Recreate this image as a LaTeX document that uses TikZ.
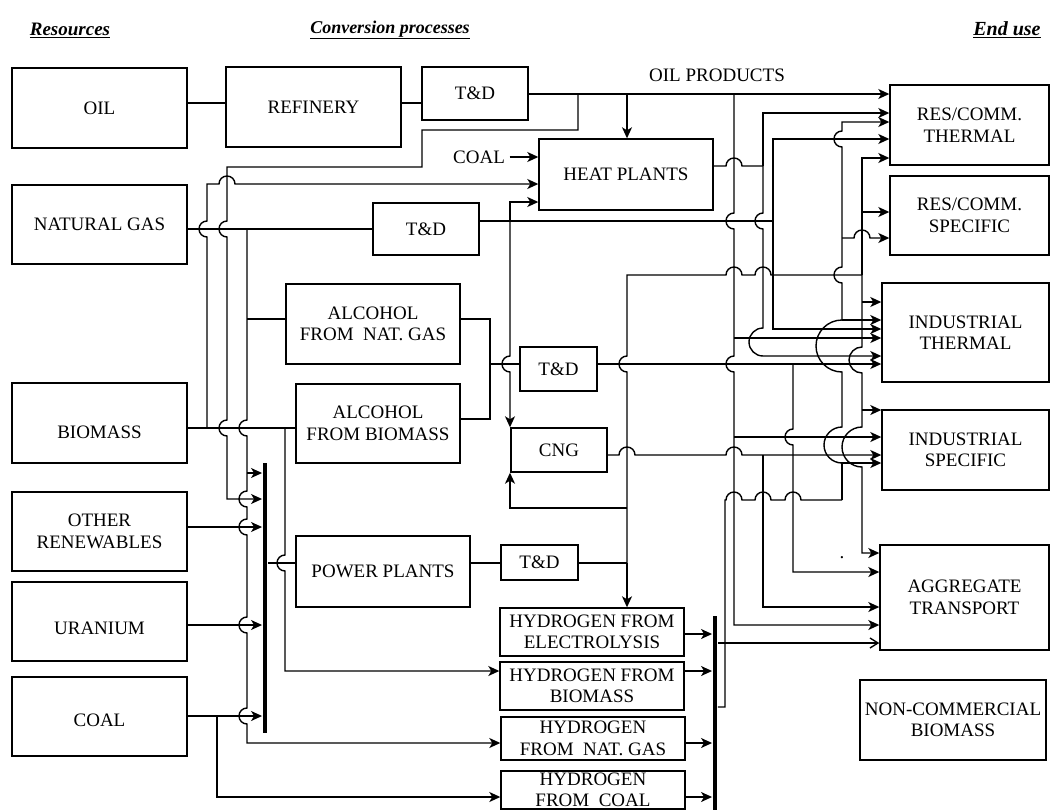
\documentclass[tikz,border=0pt]{standalone}
\usepackage{fontspec}
\setmainfont{Liberation Serif}
\newfontfamily\boxfont{Liberation Serif}
\usetikzlibrary{arrows.meta}
\def\hopR#1#2{-- (#1-8,#2) arc[start angle=180,end angle=360,radius=8]}
\def\hopD#1#2{-- (#1,#2-8) arc[start angle=270,end angle=90,radius=8]}
\def\hopU#1#2{-- (#1,#2+8) arc[start angle=90,end angle=270,radius=8]}
\begin{document}
\begin{tikzpicture}[x=1pt,y=-1pt,line width=1.4pt,
  box/.style={draw,line width=1.4pt,inner sep=0pt,align=center,font=\boxfont\fontsize{19}{21.5}\selectfont},
  txt/.style={inner sep=0pt,font=\boxfont\fontsize{19}{21.5}\selectfont},
  hdr/.style={inner sep=0pt,font=\fontsize{19}{23}\selectfont\bfseries\itshape},
  bar/.style={fill=black,inner sep=0pt,minimum width=4.5,draw=none},
  arr/.style={-{Stealth[length=11pt,width=10pt,inset=3pt]}},
  oarr/.style={-{Straight Barb[length=8pt,width=10pt]}}]
\useasboundingbox (0,0) rectangle (1053,811);
% headers
\node[hdr] (hres) at (70,30) {\underline{Resources}};
\node[hdr,font=\fontsize{18}{22}\selectfont\bfseries\itshape] (hconv) at (390,30) {\underline{Conversion processes}};
\node[hdr,font=\fontsize{20}{24}\selectfont\bfseries\itshape] (hend) at (1007,30) {\underline{End use}};
% resources
\node[box,minimum width=175,minimum height=80] (oil) at (99.5,108) {OIL};
\node[box,minimum width=175,minimum height=79] (ng) at (99.5,224.5) {NATURAL GAS};
\node[box,minimum width=175,minimum height=80,text height=30pt,text depth=0pt] (biomass) at (99.5,423) {BIOMASS};
\node[box,minimum width=175,minimum height=79] (otherren) at (99.5,531.5) {OTHER\\RENEWABLES};
\node[box,minimum width=175,minimum height=79,text height=25pt,text depth=0pt] (uranium) at (99.5,621.5) {URANIUM};
\node[box,minimum width=175,minimum height=79,text height=19pt,text depth=0pt] (coal) at (99.5,716.5) {COAL};
% conversion
\node[box,minimum width=175,minimum height=80] (ref) at (313.5,107) {REFINERY};
\node[box,minimum width=106,minimum height=53] (td1) at (475,93.5) {T\&D};
\node[box,minimum width=174,minimum height=71] (heat) at (626,174.5) {HEAT PLANTS};
\node[box,minimum width=106,minimum height=52] (td2) at (426,229) {T\&D};
\node[box,minimum width=174,minimum height=80] (alcng) at (373,324) {ALCOHOL\\FROM~~NAT. GAS};
\node[box,minimum width=164,minimum height=79] (alcbio) at (378,423.5) {ALCOHOL\\FROM BIOMASS};
\node[box,minimum width=77,minimum height=44] (td3) at (558.5,369) {T\&D};
\node[box,minimum width=96,minimum height=44] (cng) at (559,450) {CNG};
\node[box,minimum width=174,minimum height=71] (pp) at (383,571.5) {POWER PLANTS};
\node[box,minimum width=77,minimum height=35] (td4) at (539.5,562.5) {T\&D};
\node[box,minimum width=184,minimum height=48] (h2e) at (592,632) {HYDROGEN FROM\\ELECTROLYSIS};
\node[box,minimum width=184,minimum height=48] (h2b) at (592,686) {HYDROGEN FROM\\BIOMASS};
\node[box,minimum width=184,minimum height=43] (h2n) at (593,738.5) {HYDROGEN\\FROM~~NAT. GAS};
\node[box,minimum width=184,minimum height=38] (h2c) at (593,790) {HYDROGEN\\FROM~~COAL};
\node[bar,minimum height=270] (bar1) at (265,598) {};
\node[bar,minimum height=194] (bar2) at (715,713) {};
% end use
\node[box,minimum width=159,minimum height=80] (rct) at (969.5,125) {RES/COMM.\\THERMAL};
\node[box,minimum width=159,minimum height=79] (rcs) at (969.5,215.5) {RES/COMM.\\SPECIFIC};
\node[box,minimum width=167,minimum height=99] (indtherm) at (965.5,332.5) {INDUSTRIAL\\THERMAL};
\node[box,minimum width=167,minimum height=80] (indspec) at (965.5,450) {INDUSTRIAL\\SPECIFIC};
\node[box,minimum width=169,minimum height=105] (trans) at (964.5,597.5) {AGGREGATE\\TRANSPORT};
\node[box,minimum width=186,minimum height=80] (ncb) at (953,720) {NON-COMMERCIAL\\BIOMASS};
\node[txt] (oilprod) at (717,75) {OIL PRODUCTS};
\node[txt] (coallbl) at (479,157) {COAL};
\node[txt] (dot) at (842,558) {.};
% oil chain
\draw (oil.east|-0,103) -- (ref.west|-0,103);
\draw (ref.east|-0,103) -- (td1.west|-0,103);
\draw[arr] (td1.east|-0,94) -- (rct.west|-0,94);
\draw[arr] (627,94) -- (heat.north-|627,0);
\draw[arr] (578,94) -- (578,130) -- (422,130) -- (422,167) -- (227,167) \hopD{227}{229} \hopD{227}{428} -- (227,499) -- (bar1.west|-0,499);
% biomass to heat, coal to heat
\draw[arr] (207,428) \hopU{207}{229} -- (207,184) \hopR{227}{184} -- (heat.west|-0,184);
\draw[arr] ([xshift=4]coallbl.east) -- (heat.west|-0,157);
% natural gas
\draw (ng.east|-0,229) -- (td2.west|-0,229);
\draw[arr] (247,229) \hopD{247}{428} \hopD{247}{499} \hopD{247}{527} \hopD{247}{625} \hopD{247}{716} -- (247,743) -- (h2n.west|-0,743);
\draw (247,319) -- (alcng.west|-0,319);
\draw[arr] (247,473) -- (bar1.west|-0,473);
% biomass
\draw (biomass.east|-0,428) -- (alcbio.west|-0,428);
\draw[arr] (285,428) \hopD{285}{563} -- (285,671) -- (h2b.west|-0,671);
\draw[arr] (otherren.east|-0,527) -- (bar1.west|-0,527);
\draw[arr] (uranium.east|-0,625) -- (bar1.west|-0,625);
\draw[arr] (coal.east|-0,716) -- (bar1.west|-0,716);
\draw[arr] (217,716) -- (217,797) -- (h2c.west|-0,797);
% power
\draw (bar1.east|-0,563) -- (pp.west|-0,563);
\draw (pp.east|-0,563) -- (td4.west|-0,563);
\draw (td4.east|-0,563) -- (627,563);
\draw[arr] (627,563) -- (h2e.north-|627,0);
\draw (627,563) \hopU{627}{364} -- (627,275) \hopR{734}{275} \hopR{763}{275} -- (862,275);
\draw[arr] (627,508) -- (510,508) -- (cng.south-|510,0);
% natural gas T&D
\draw (td2.east|-0,221) -- (773,221);
\draw[arr] (510,221) -- (510,202) -- (heat.west|-0,202);
\draw[arr] (510,221) \hopD{510}{364} -- (cng.north-|510,0);
% alcohol
\draw (alcng.east|-0,319) -- (490,319) -- (490,419) -- (alcbio.east|-0,419);
\draw (490,364) -- (td3.west|-0,364);
\draw[arr] (td3.east|-0,364) -- (indtherm.west|-0,364);
\draw[arr] (793,364) \hopD{793}{437} -- (793,572) -- (trans.west|-0,572);
% heat out
\draw (heat.east|-0,166) \hopR{734}{166} -- (763,166);
\draw[arr] (763,166) -- (763,113) -- (rct.west|-0,113);
\draw[arr] (763,166) \hopD{763}{221} -- (763,328) arc[start angle=270,end angle=90,radius=14] -- (indtherm.west|-0,356);
% oil products bus
\draw[arr] (734,94) \hopD{734}{221} \hopD{734}{364} -- (734,625) -- (trans.west|-0,625);
\draw[arr] (734,338) -- (indtherm.west|-0,338);
\draw[arr] (734,437) -- (indspec.west|-0,437);
% natural gas bus
\draw[arr] (773,221) -- (773,139) -- (rct.west|-0,139);
\draw[arr] (773,221) -- (773,329) -- (indtherm.west|-0,329);
% hydrogen bus
\draw (bar2.east|-0,707) -- (725,707) -- (725,500) \hopR{734}{500} \hopR{763}{500} \hopR{793}{500} -- (842,500);
\draw[arr] (842,500) -- (842,463) -- (indspec.west|-0,463);
\draw[arr] (842,463) arc[start angle=90,end angle=270,radius=18] -- (842,372) arc[start angle=90,end angle=270,radius=26] \hopU{842}{275} \hopU{842}{139} -- (842,122) -- (rct.west|-0,122);
\draw[arr] (842,320) -- (indtherm.west|-0,320);
\draw[arr] (842,238) \hopR{862}{238} -- (rcs.west|-0,238);
% electricity bus
\draw[arr] (862,275) -- (862,158) -- (rct.west|-0,158);
\draw[arr] (862,212) -- (rcs.west|-0,212);
\draw[arr] (862,302) -- (indtherm.west|-0,302);
\draw[arr] (862,275) -- (862,347) arc[start angle=270,end angle=90,radius=13] -- (862,427) arc[start angle=270,end angle=90,radius=20] -- (862,553) -- (trans.west|-0,553);
\draw[arr] (862,410) -- (indspec.west|-0,410);
% CNG
\draw[arr] (cng.east|-0,455) \hopR{627}{455} \hopR{734}{455} -- (indspec.west|-0,455);
\draw[arr] (763,455) -- (763,607) -- (trans.west|-0,607);
% hydrogen plants to bus
\draw[arr] (h2e.east|-0,634) -- (bar2.west|-0,634);
\draw[arr] (h2b.east|-0,671) -- (bar2.west|-0,671);
\draw[arr] (h2n.east|-0,743) -- (bar2.west|-0,743);
\draw[arr] (h2c.east|-0,797) -- (bar2.west|-0,797);
\draw[oarr] (bar2.east|-0,643) -- (trans.west|-0,643);
\end{tikzpicture}
\end{document}
